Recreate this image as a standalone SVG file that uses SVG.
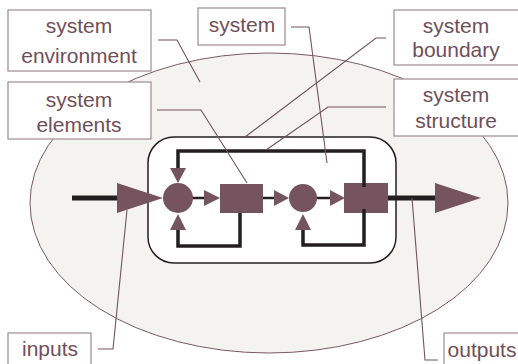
<svg xmlns="http://www.w3.org/2000/svg" width="518" height="364" viewBox="0 0 518 364">
  <style>
    .label rect { fill: #ffffff; stroke: #a08a92; stroke-width: 1.2; }
    .label text { font-family: "Liberation Sans", Arial, sans-serif; font-size: 21px; fill: #6f4f5a; text-anchor: middle; }
    .leader { fill: none; stroke: #74525d; stroke-width: 1.1; }
    .flow { fill: none; stroke: #231f20; stroke-width: 3.5; }
    .solid { fill: #76545f; }
  </style>

  <rect width="518" height="364" fill="#ffffff"/>

  <!-- environment -->
  <g id="environment">
    <ellipse cx="269" cy="203" rx="239" ry="150" fill="#f4f3f2" stroke="#7a5864" stroke-width="1"/>
  </g>

  <!-- system boundary -->
  <g id="boundary">
    <rect x="148" y="137" width="248" height="126" rx="26" ry="26" fill="#ffffff" stroke="#231f20" stroke-width="1.5"/>
  </g>

  <!-- connectors -->
  <g id="connectors">
    <!-- input / output lines -->
    <line x1="72" y1="198" x2="120" y2="198" stroke="#231f20" stroke-width="5"/>
    <line x1="388" y1="198" x2="438" y2="198" stroke="#231f20" stroke-width="5"/>
    <!-- forward path -->
    <line x1="192" y1="198" x2="206" y2="198" stroke="#231f20" stroke-width="2.5"/>
    <line x1="263" y1="198" x2="276" y2="198" stroke="#231f20" stroke-width="2.5"/>
    <line x1="316" y1="198" x2="332" y2="198" stroke="#231f20" stroke-width="2.5"/>
    <!-- feedback loops -->
    <polyline class="flow" points="364,188 364,151 178,151 178,170"/>
    <polyline class="flow" points="240,210 240,246 178,246 178,228"/>
    <polyline class="flow" points="364,209 364,245 303,245 303,228"/>
    <!-- arrowheads -->
    <polygon class="solid" points="117,183 163,198 117,213"/>
    <polygon class="solid" points="435,183 481,198 435,213"/>
    <polygon class="solid" points="204,190 220,198 204,206"/>
    <polygon class="solid" points="274,190 289,198 274,206"/>
    <polygon class="solid" points="330,190 345,198 330,206"/>
    <polygon class="solid" points="170,168 186,168 178,183"/>
    <polygon class="solid" points="170,230 186,230 178,214"/>
    <polygon class="solid" points="295,230 311,230 303,214"/>
  </g>

  <!-- system elements -->
  <g id="sum1"><circle class="solid" cx="178" cy="198" r="15"/></g>
  <g id="block1"><rect class="solid" x="220" y="184" width="43" height="29"/></g>
  <g id="sum2"><circle class="solid" cx="303" cy="198" r="14"/></g>
  <g id="block2"><rect class="solid" x="344" y="183" width="44" height="30"/></g>
  <!-- loop lines run a little into block2 -->
  <g id="block2-taps">
    <line x1="364" y1="183" x2="364" y2="187" stroke="#231f20" stroke-width="3.5"/>
    <line x1="364" y1="209" x2="364" y2="213" stroke="#231f20" stroke-width="3.5"/>
  </g>

  <!-- leader lines -->
  <g id="leaders">
    <polyline class="leader" points="158,40 177,40 200,82"/>
    <polyline class="leader" points="157,110 201,110 247,183"/>
    <polyline class="leader" points="291,27 309,27 327,163"/>
    <polyline class="leader" points="386,38 376,38 245,137"/>
    <polyline class="leader" points="386,107 328,107 266,150"/>
    <polyline class="leader" points="98,349 113,349 127,210"/>
    <polyline class="leader" points="438,360 425,360 412,198"/>
  </g>

  <!-- labels -->
  <g id="label-environment" class="label">
    <rect x="8" y="10" width="143" height="61"/>
    <text x="79" y="33">system</text>
    <text x="79" y="63">environment</text>
  </g>
  <g id="label-elements" class="label">
    <rect x="8" y="82" width="143" height="57"/>
    <text x="79" y="107">system</text>
    <text x="79" y="132">elements</text>
  </g>
  <g id="label-system" class="label">
    <rect x="198" y="8" width="87" height="37"/>
    <text x="242" y="32">system</text>
  </g>
  <g id="label-boundary" class="label">
    <rect x="394" y="10" width="130" height="55"/>
    <text x="456" y="33">system</text>
    <text x="456" y="57">boundary</text>
  </g>
  <g id="label-structure" class="label">
    <rect x="394" y="79" width="130" height="57"/>
    <text x="456" y="102">system</text>
    <text x="456" y="128">structure</text>
  </g>
  <g id="label-inputs" class="label">
    <rect x="8" y="333" width="83" height="40"/>
    <text x="50" y="356">inputs</text>
  </g>
  <g id="label-outputs" class="label">
    <rect x="444" y="333" width="80" height="40"/>
    <text x="482" y="357">outputs</text>
  </g>
</svg>
